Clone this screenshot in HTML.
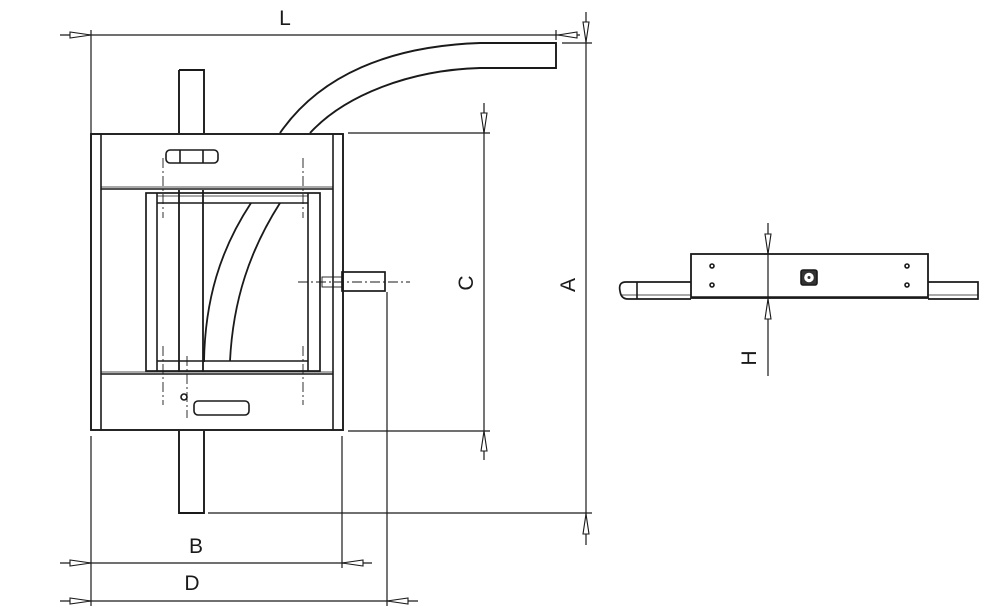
<!DOCTYPE html>
<html><head><meta charset="utf-8"><style>html,body{margin:0;padding:0;background:#fff;}svg{display:block}</style></head>
<body>
<svg width="1000" height="614" viewBox="0 0 1000 614" xmlns="http://www.w3.org/2000/svg" fill="none" stroke="#1a1a1a" stroke-width="1.6" font-family="Liberation Sans, sans-serif">
<!-- pipe curve -->
<path d="M280,133 C320,75 390,46 480,43 L556,43 L556,68 L480,68 C410,70 345,95 310,133" stroke-width="1.9"/>
<!-- shaft -->
<path d="M179,70 L204,70 L204,133 M179,70 L179,133 M179,431 L179,513 L204,513 L204,431" stroke-width="1.9"/>
<line x1="179" y1="190" x2="179" y2="372" stroke-width="1.8"/><line x1="203" y1="190" x2="203" y2="372" stroke-width="1.8"/>
<!-- outer frame -->
<rect x="91" y="134" width="252" height="296" stroke-width="1.9"/>
<line x1="101" y1="134" x2="101" y2="430"/><line x1="333" y1="134" x2="333" y2="430"/>
<line x1="101" y1="189" x2="333" y2="189"/><line x1="101" y1="374" x2="333" y2="374"/>
<line x1="101" y1="187" x2="333" y2="187" stroke-width="0.8"/><line x1="101" y1="372" x2="333" y2="372" stroke-width="0.8"/>
<!-- inner box -->
<rect x="146" y="193" width="174" height="178" stroke-width="1.7"/>
<line x1="157" y1="193" x2="157" y2="371"/><line x1="308" y1="193" x2="308" y2="371"/>
<line x1="157" y1="203" x2="308" y2="203"/><line x1="157" y1="361" x2="308" y2="361"/>
<line x1="157" y1="196" x2="308" y2="196" stroke-width="0.8"/>
<!-- inner curves -->
<path d="M204,362 C205,300 220,250 251,203" stroke-width="1.8"/>
<path d="M230,361 C233,300 250,250 280,203" stroke-width="1.8"/>
<!-- slots -->
<rect x="166" y="150" width="52" height="13" rx="4"/>
<line x1="180" y1="150" x2="180" y2="163"/><line x1="203" y1="150" x2="203" y2="163"/>
<rect x="194" y="401" width="55" height="14" rx="4"/>
<circle cx="184" cy="397" r="3"/>
<!-- centerlines -->
<g stroke-width="0.9" stroke-dasharray="10,3,2,3">
<line x1="163" y1="158" x2="163" y2="218"/><line x1="303" y1="158" x2="303" y2="218"/>
<line x1="163" y1="346" x2="163" y2="405"/><line x1="303" y1="346" x2="303" y2="405"/>
<line x1="187" y1="356" x2="187" y2="418"/>
<line x1="298" y1="282" x2="410" y2="282"/>
</g>
<!-- stub -->
<rect x="342" y="272" width="43" height="19" stroke-width="1.7"/>
<rect x="322" y="277" width="20" height="10" stroke-width="0.9"/>
<!-- dimension lines -->
<g stroke-width="1.2">
<line x1="60" y1="35" x2="580" y2="35"/>
<line x1="91" y1="30" x2="91" y2="134"/>
<line x1="556" y1="30" x2="556" y2="40"/>
<line x1="562" y1="43" x2="592" y2="43"/>
<line x1="586" y1="12" x2="586" y2="545"/>
<line x1="208" y1="513" x2="592" y2="513"/>
<line x1="348" y1="133" x2="490" y2="133"/>
<line x1="348" y1="431" x2="490" y2="431"/>
<line x1="484" y1="103" x2="484" y2="460"/>
<line x1="91" y1="436" x2="91" y2="606"/>
<line x1="342" y1="436" x2="342" y2="568"/>
<line x1="387" y1="292" x2="387" y2="606"/>
<line x1="60" y1="563" x2="372" y2="563"/>
<line x1="60" y1="601" x2="418" y2="601"/>
</g>
<g stroke-width="1.1" fill="#fff">
<polygon points="91,35 70,32 70,38"/>
<polygon points="558,35 577,32 577,38"/>
<polygon points="586,42 583,22 589,22"/>
<polygon points="586,514 583,534 589,534"/>
<polygon points="484,133 481,113 487,113"/>
<polygon points="484,431 481,451 487,451"/>
<polygon points="91,563 70,560 70,566"/>
<polygon points="342,563 363,560 363,566"/>
<polygon points="91,601 70,598 70,604"/>
<polygon points="387,601 408,598 408,604"/>
</g>
<g fill="#1a1a1a" stroke="none" font-size="21">
<text x="285" y="25" text-anchor="middle">L</text>
<text x="196" y="553" text-anchor="middle">B</text>
<text x="192" y="590" text-anchor="middle">D</text>
<text transform="translate(473,283) rotate(-90)" text-anchor="middle">C</text>
<text transform="translate(575,285) rotate(-90)" text-anchor="middle">A</text>
<text transform="translate(756,358) rotate(-90)" text-anchor="middle">H</text>
</g>
<!-- right view -->
<rect x="691" y="254" width="237" height="44" stroke-width="1.8"/>
<line x1="691" y1="297" x2="928" y2="297"/>
<path d="M691,282 L626,282 Q618,282 620,291 Q621,299 628,299 L691,299 M928,282 L978,282 L978,299 L928,299" stroke-width="1.7"/>
<line x1="637" y1="282" x2="637" y2="299"/>
<line x1="622" y1="295" x2="691" y2="295" stroke-width="0.8"/><line x1="928" y1="295" x2="978" y2="295" stroke-width="0.8"/>
<circle cx="712" cy="266" r="2"/><circle cx="712" cy="285" r="2"/>
<circle cx="907" cy="266" r="2"/><circle cx="907" cy="285" r="2"/>
<rect x="801" y="270" width="16" height="15" rx="2" fill="#333"/>
<circle cx="809" cy="277.5" r="4" fill="#fff" stroke="#fff"/>
<circle cx="809" cy="277.5" r="1.5" fill="#333" stroke="none"/>
<line x1="768" y1="223" x2="768" y2="376" stroke-width="1.2"/>
<g stroke-width="1.1" fill="#fff">
<polygon points="768,254 765,234 771,234"/>
<polygon points="768,299 765,319 771,319"/>
</g>
</svg>
</body></html>
